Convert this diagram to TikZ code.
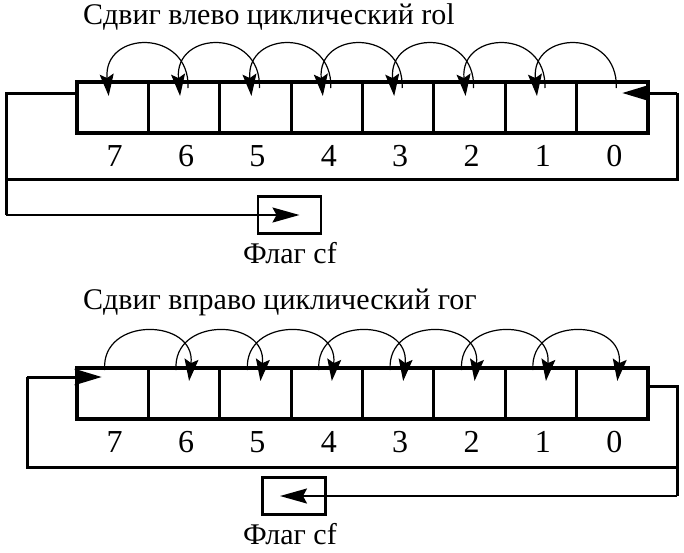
\documentclass[tikz,border=0pt]{standalone}
\usepackage{fontspec}
\setmainfont{Liberation Serif}
\usetikzlibrary{arrows.meta,calc}
\tikzset{
  cell/.style={draw, line width=3.2pt, minimum width=71.375pt, minimum height=51pt, inner sep=0pt, outer sep=0pt},
  digit/.style={font=\fontsize{32}{32}\selectfont, inner sep=0pt, anchor=base},
  title/.style={font=\fontsize{30}{30}\selectfont, inner sep=0pt, anchor=base west},
  flaglabel/.style={font=\fontsize{30}{30}\selectfont, inner sep=0pt, anchor=base},
  flagbox/.style={draw, line width=2.2pt, minimum width=63pt, minimum height=37pt, inner sep=0pt},
  arcline/.style={line width=1.2pt, -{Stealth[length=22pt,width=14pt,inset=4pt]}},
  loopline/.style={line width=3pt},
  looparrow/.style={line width=3pt, -{Stealth[length=27pt,width=16pt,inset=4pt]}},
  flagarrow/.style={line width=2pt, -{Stealth[length=27pt,width=15pt,inset=4pt]}}
}
\begin{document}
\begin{tikzpicture}[x=1pt,y=-1pt]
\useasboundingbox (0,0) rectangle (684,552);
\fill[white] (0,0) rectangle (684,552);

% registers and bit numbers
\foreach \k in {0,...,7}{
  \node[cell] (t\k) at ({77+(7.5-\k)*71.375},107.5) {};
  \node[digit] (tn\k) at ({79+(7.5-\k)*71.375},166) {\k};
  \node[cell] (b\k) at ({77+(7.5-\k)*71.375},393.5) {};
  \node[digit] (bn\k) at ({79+(7.5-\k)*71.375},452) {\k};
}

% titles
\node[title] (title1) at (83,24) {Сдвиг влево циклический rol};
\node[title] (title2) at (83,309) {Сдвиг вправо циклический гог};

% arcs rol (leftwards)
\foreach \k [evaluate=\k as \j using int(\k+1)] in {0,...,6}{
  \draw[arcline] ($(t\k.north)+(4,6)$) .. controls ($(t\k.north)+(6,-54)$) and ($(t\j.north)+(-10,-52)$) .. ($(t\j.north)+(-4,14)$);
}
% arcs ror (rightwards)
\foreach \k [evaluate=\k as \j using int(\k+1)] in {0,...,6}{
  \draw[arcline] ($(b\j.north)+(-8,2)$) .. controls ($(b\j.north)+(-12,-52)$) and ($(b\k.north)+(12,-50)$) .. ($(b\k.north)+(5,13)$);
}

% flag boxes
\node[flagbox] (f1) at (289.5,215) {};
\node[flaglabel] (f1l) at (290,263) {Флаг cf};
\node[flagbox] (f2) at (294,496) {};
\node[flaglabel] (f2l) at (290,544) {Флаг cf};

% rol loop
\coordinate (tA) at (6,93);
\coordinate (tB) at (6,215);
\coordinate (tC) at (6,179);
\coordinate (tD) at (677,179);
\coordinate (tE) at (677,93);
\coordinate (tTip) at ($(t0.center |- tE)+(10,0)$);
\coordinate (fTip1) at ($(f1.center)+(10,0)$);
\draw[loopline] (t7.west |- tA) -- (tA) -- (tB);
\draw[flagarrow] (tB) -- (fTip1);
\draw[loopline] (tC) -- (tD) -- (tE);
\draw[looparrow] (tE) -- (tTip);

% ror loop
\coordinate (bA) at (27,377);
\coordinate (bB) at (27,467);
\coordinate (bC) at (677,467);
\coordinate (bD) at (677,386);
\coordinate (bE) at (677,496);
\coordinate (bTip) at ($(b7.center |- bA)+(-11,0)$);
\coordinate (fTip2) at ($(f2.center)+(-14,0)$);
\draw[looparrow] (bA) -- (bTip);
\draw[loopline] (bA) -- (bB) -- (bC);
\draw[loopline] (b0.east |- bD) -- (bD) -- (bE);
\draw[flagarrow] (bE) -- (fTip2);
\end{tikzpicture}
\end{document}
